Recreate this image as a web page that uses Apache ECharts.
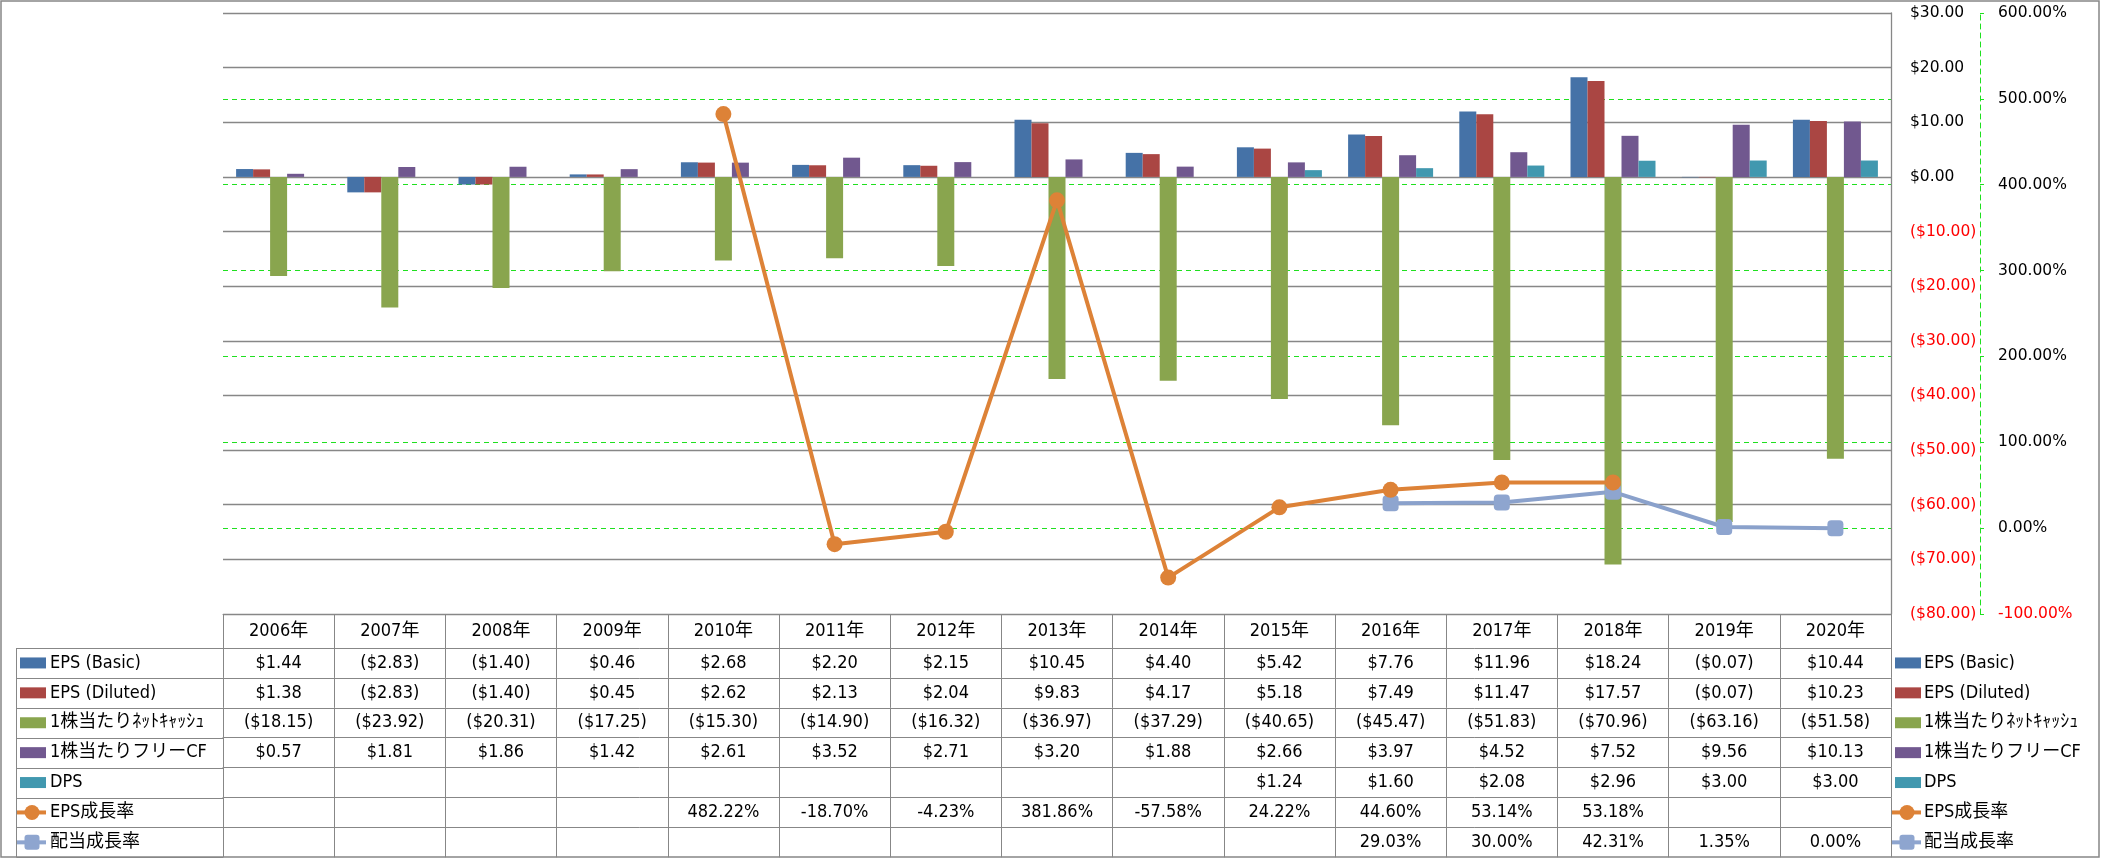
<!DOCTYPE html>
<html><head><meta charset="utf-8">
<script src="https://cdn.jsdelivr.net/npm/echarts@6/dist/echarts.min.js"></script>
<style>html,body{margin:0;padding:0;background:#fff}#c{width:2101px;height:858px}</style>
</head><body><div id="c"></div>
<script>
// ---------------- data ----------------
const years = ['2006年','2007年','2008年','2009年','2010年','2011年','2012年','2013年','2014年','2015年','2016年','2017年','2018年','2019年','2020年'];
const epsBasic   = [1.44, -2.83, -1.40, 0.46, 2.68, 2.20, 2.15, 10.45, 4.40, 5.42, 7.76, 11.96, 18.24, -0.07, 10.44];
const epsDiluted = [1.38, -2.83, -1.40, 0.45, 2.62, 2.13, 2.04, 9.83, 4.17, 5.18, 7.49, 11.47, 17.57, -0.07, 10.23];
const netCash    = [-18.15, -23.92, -20.31, -17.25, -15.30, -14.90, -16.32, -36.97, -37.29, -40.65, -45.47, -51.83, -70.96, -63.16, -51.58];
const freeCF     = [0.57, 1.81, 1.86, 1.42, 2.61, 3.52, 2.71, 3.20, 1.88, 2.66, 3.97, 4.52, 7.52, 9.56, 10.13];
const dps        = [null, null, null, null, null, null, null, null, null, 1.24, 1.60, 2.08, 2.96, 3.00, 3.00];
const epsGrowth  = [null, null, null, null, 482.22, -18.70, -4.23, 381.86, -57.58, 24.22, 44.60, 53.14, 53.18, null, null];
const divGrowth  = [null, null, null, null, null, null, null, null, null, null, 29.03, 30.00, 42.31, 1.35, 0.00];
const seriesNames = ['EPS (Basic)', 'EPS (Diluted)', '1株当たりﾈｯﾄｷｬｯｼｭ', '1株当たりフリーCF', 'DPS', 'EPS成長率', '配当成長率'];
const dollarAxis = { min: -80, max: 30, interval: 10 };
const percentAxis = { min: -100, max: 600, interval: 100 };

// ---------------- style ----------------
const colors = ['#4572A7', '#AA4643', '#89A54E', '#71588F', '#4198AF', '#DD8237', '#8EA5CF'];
const GRAY = '#878787';
const GREEN = '#1FE01F';
const TFONT = "'DejaVu Sans Condensed', 'Noto Sans CJK JP', sans-serif";
const AFONT = "'DejaVu Sans', sans-serif";
const TSIZE = 18;
const GRID_L = 223, GRID_R = 1891, GRID_T = 13, GRID_B = 614;
const HEADER_H = 34, ROW_H = 29.9;

const fmtD = v => v == null ? '' : (v < 0 ? '($' + Math.abs(v).toFixed(2) + ')' : '$' + v.toFixed(2));
const fmtP = v => v == null ? '' : v.toFixed(2) + '%';
const tableRows = [epsBasic, epsDiluted, netCash, freeCF, dps, epsGrowth, divGrowth];
const tableFmts = [fmtD, fmtD, fmtD, fmtD, fmtD, fmtP, fmtP];

// ---------------- axes (table built on category axes) ----------------
const xAxes = [{
  type: 'category', data: years, gridIndex: 0, position: 'bottom', offset: 0,
  axisLine: { show: true, onZero: false, lineStyle: { color: GRAY, width: 1 } },
  axisTick: { show: true, interval: 0, length: HEADER_H, lineStyle: { color: GRAY, width: 1 } },
  axisLabel: { interval: 0, margin: 8, fontSize: TSIZE, fontFamily: TFONT, color: '#000' },
  splitLine: { show: false }
}];
tableRows.forEach((row, k) => {
  xAxes.push({
    type: 'category', data: years, gridIndex: 0, position: 'bottom',
    offset: HEADER_H + k * ROW_H,
    axisLine: { show: true, onZero: false, lineStyle: { color: GRAY, width: 1 } },
    axisTick: { show: true, interval: 0, length: ROW_H, lineStyle: { color: GRAY, width: 1 } },
    axisLabel: { interval: 0, margin: 6, fontSize: TSIZE, fontFamily: TFONT, color: '#000',
      formatter: (v, i) => tableFmts[k](row[i]) },
    splitLine: { show: false }
  });
});

// ---------------- graphics: frame, left column, legends ----------------
const graphics = [];
graphics.push({ type: 'rect', silent: true, shape: { x: 1, y: 1, width: 2098, height: 856 },
  style: { fill: 'rgba(0,0,0,0)', stroke: GRAY, lineWidth: 1.5 } });
const tableTop = GRID_B + HEADER_H;
for (let k = 0; k <= seriesNames.length; k++) {
  const y = Math.round(tableTop + k * ROW_H) + 0.5;
  graphics.push({ type: 'line', silent: true, shape: { x1: 16.5, y1: y, x2: GRID_L, y2: y }, style: { stroke: GRAY, lineWidth: 1 } });
}
graphics.push({ type: 'line', silent: true, shape: { x1: 16.5, y1: tableTop, x2: 16.5, y2: tableTop + seriesNames.length * ROW_H }, style: { stroke: GRAY, lineWidth: 1 } });

function legendItem(x0, textX, cy, idx) {
  const c = colors[idx];
  if (idx < 5) {
    graphics.push({ type: 'rect', silent: true, shape: { x: x0, y: cy - 5.5, width: 26, height: 11 }, style: { fill: c } });
  } else {
    graphics.push({ type: 'line', silent: true, shape: { x1: x0 - 3, y1: cy, x2: x0 + 26, y2: cy }, style: { stroke: c, lineWidth: 4 } });
    if (idx === 5) {
      graphics.push({ type: 'circle', silent: true, shape: { cx: x0 + 12, cy: cy, r: 7.5 }, style: { fill: c } });
    } else {
      graphics.push({ type: 'rect', silent: true, shape: { x: x0 + 4.5, y: cy - 7.5, width: 15, height: 15, r: 3 }, style: { fill: c } });
    }
  }
  graphics.push({ type: 'text', silent: true, x: textX, y: cy,
    style: { text: seriesNames[idx], fontSize: TSIZE, fontFamily: TFONT, fill: '#000', align: 'left', verticalAlign: 'middle' } });
}
seriesNames.forEach((n, i) => {
  const cy = tableTop + (i + 0.5) * ROW_H;
  legendItem(20, 50, cy, i);
  legendItem(1895, 1924, cy, i);
});

// ---------------- series ----------------
const barData = [epsBasic, epsDiluted, netCash, freeCF, dps];
const series = barData.map((d, i) => ({
  name: seriesNames[i], type: 'bar', xAxisIndex: 0, yAxisIndex: 0, data: d,
  barWidth: 17, barGap: '0%', itemStyle: { color: colors[i] }, z: 2
}));
series.push({
  name: seriesNames[5], type: 'line', xAxisIndex: 0, yAxisIndex: 1, data: epsGrowth,
  symbol: 'circle', symbolSize: 16, lineStyle: { color: colors[5], width: 4 },
  itemStyle: { color: colors[5] }, z: 5
});
series.push({
  name: seriesNames[6], type: 'line', xAxisIndex: 0, yAxisIndex: 1, data: divGrowth,
  symbol: 'roundRect', symbolSize: 16, lineStyle: { color: '#8AA1CB', width: 4 },
  itemStyle: { color: colors[6] }, z: 4
});

const chart = echarts.init(document.getElementById('c'), null, { renderer: 'canvas' });
chart.setOption({
  animation: false,
  backgroundColor: '#fff',
  grid: { left: GRID_L, top: GRID_T, width: GRID_R - GRID_L, height: GRID_B - GRID_T, containLabel: false },
  xAxis: xAxes,
  yAxis: [{
    type: 'value', position: 'right', min: dollarAxis.min, max: dollarAxis.max, interval: dollarAxis.interval,
    axisLine: { show: true, lineStyle: { color: GRAY, width: 1.3 } },
    axisTick: { show: false },
    axisLabel: { margin: 19, fontSize: 15.5, fontFamily: AFONT,
      formatter: v => fmtD(v), color: v => (v < 0 ? '#FF0000' : '#000') },
    splitLine: { show: true, lineStyle: { color: GRAY, width: 1.3 } }
  }, {
    type: 'value', position: 'right', offset: 89, min: percentAxis.min, max: percentAxis.max, interval: percentAxis.interval,
    axisLine: { show: true, lineStyle: { color: GREEN, width: 1, type: [5, 4] } },
    axisTick: { show: true, inside: false, length: 4, lineStyle: { color: GREEN, width: 1 } },
    axisLabel: { margin: 18, fontSize: 15.5, fontFamily: AFONT,
      formatter: v => fmtP(v), color: v => (v < 0 ? '#FF0000' : '#000') },
    splitLine: { show: true, showMinLine: false, showMaxLine: false, lineStyle: { color: GREEN, width: 1, type: [5, 4] } }
  }],
  graphic: graphics,
  series: series
});
</script></body></html>
